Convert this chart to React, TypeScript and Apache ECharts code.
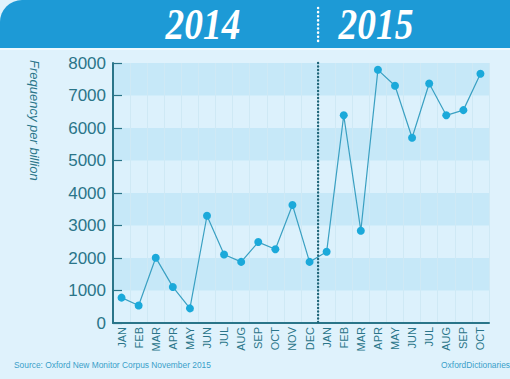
import React, { useEffect, useRef } from "react";
import * as echarts from "echarts";

const months2014 = ["JAN", "FEB", "MAR", "APR", "MAY", "JUN", "JUL", "AUG", "SEP", "OCT", "NOV", "DEC"];
const months2015 = ["JAN", "FEB", "MAR", "APR", "MAY", "JUN", "JUL", "AUG", "SEP", "OCT"];
const values2014 = [780, 540, 2010, 1110, 450, 3300, 2110, 1880, 2490, 2270, 3630, 1880];
const values2015 = [2190, 6390, 2840, 7790, 7300, 5700, 7370, 6390, 6550, 7670];
const yearLabels = ["2014", "2015"];
const yMin = 0;
const yMax = 8000;
const yInterval = 1000;

const TEAL = "#2a7589";

export default function App() {
  const ref = useRef<HTMLDivElement>(null);
  useEffect(() => {
    if (!ref.current) return;
    const chart = echarts.init(ref.current, undefined, { renderer: "svg" });
    const categories = [...months2014, ...months2015];
    const values = [...values2014, ...values2015];
    chart.setOption({
      animation: false,
      backgroundColor: "#dff2fc",
      grid: { left: 113, right: 21, top: 63, bottom: 56 },
      xAxis: {
        type: "category",
        data: categories,
        boundaryGap: true,
        axisLine: { lineStyle: { color: TEAL, width: 2 } },
        axisTick: { inside: true, length: 5, lineStyle: { color: TEAL, width: 1.2 } },
        splitLine: { show: true, lineStyle: { color: "#cfe9f5", width: 1 } },
        axisLabel: {
          rotate: 90,
          interval: 0,
          color: TEAL,
          fontSize: 11,
          fontFamily: "Liberation Sans",
          margin: 4,
        },
      },
      yAxis: {
        type: "value",
        min: yMin,
        max: yMax,
        interval: yInterval,
        axisLine: { show: true, lineStyle: { color: TEAL, width: 2 } },
        axisTick: { show: true, inside: true, length: 9, lineStyle: { color: TEAL, width: 1.2 } },
        splitLine: { show: false },
        splitArea: { show: true, areaStyle: { color: ["#dcf1fc", "#c6e8f8"] } },
        axisLabel: {
          color: TEAL,
          fontSize: 17,
          fontFamily: "Liberation Sans",
          margin: 7,
          formatter: (v: number) => String(v),
        },
      },
      series: [
        {
          type: "line",
          data: values,
          symbol: "circle",
          symbolSize: 8,
          lineStyle: { color: "#3aa0c2", width: 1.2 },
          itemStyle: { color: "#1ba9da" },
          z: 3,
        },
      ],
    });

    const x11 = chart.convertToPixel({ xAxisIndex: 0 }, 11) as number;
    const x12 = chart.convertToPixel({ xAxisIndex: 0 }, 12) as number;
    const xSep = (x11 + x12) / 2;
    const yTop = chart.convertToPixel({ yAxisIndex: 0 }, yMax) as number;
    const yBot = chart.convertToPixel({ yAxisIndex: 0 }, yMin) as number;

    chart.setOption({
      graphic: [
        {
          type: "rect",
          shape: { x: 0, y: 0, width: 510, height: 48, r: [22, 0, 0, 0] },
          style: { fill: "#1d9ad6" },
          z: 10,
        },
        {
          type: "rect",
          shape: { x: 0, y: 48, width: 510, height: 2 },
          style: { fill: "#eef9fe" },
          z: 10,
        },
        {
          type: "text",
          x: 203,
          y: 24,
          scaleX: 0.85,
          style: {
            text: yearLabels[0],
            fill: "#ffffff",
            font: "italic bold 44px 'Liberation Serif'",
            align: "center",
            verticalAlign: "middle",
          },
          z: 11,
        },
        {
          type: "text",
          x: 376,
          y: 24,
          scaleX: 0.85,
          style: {
            text: yearLabels[1],
            fill: "#ffffff",
            font: "italic bold 44px 'Liberation Serif'",
            align: "center",
            verticalAlign: "middle",
          },
          z: 11,
        },
        {
          type: "line",
          shape: { x1: xSep, y1: 8, x2: xSep, y2: 41 },
          style: { stroke: "#ffffff", lineWidth: 2.5, lineDash: [0.1, 4], lineCap: "round" },
          z: 11,
        },
        {
          type: "line",
          shape: { x1: xSep, y1: yTop, x2: xSep, y2: yBot },
          style: { stroke: "#1f6578", lineWidth: 2.4, lineDash: [0.1, 3.4], lineCap: "round" },
          z: 5,
        },
        {
          type: "text",
          x: 34,
          y: 60,
          rotation: -Math.PI / 2,
          style: {
            text: "Frequency per billion",
            fill: TEAL,
            font: "italic 13px 'Liberation Sans'",
            align: "left",
            verticalAlign: "middle",
          },
          z: 11,
        },
        {
          type: "text",
          x: 14,
          y: 365,
          style: {
            text: "Source: Oxford New Monitor Corpus November 2015",
            fill: "#3a9fc9",
            font: "8.4px 'Liberation Sans'",
            align: "left",
            verticalAlign: "middle",
          },
          z: 11,
        },
        {
          type: "text",
          x: 510,
          y: 365,
          style: {
            text: "OxfordDictionaries",
            fill: "#3a9fc9",
            font: "8.4px 'Liberation Sans'",
            align: "right",
            verticalAlign: "middle",
          },
          z: 11,
        },
      ],
    });

    return () => chart.dispose();
  }, []);
  return (
    <div
      ref={ref}
      style={{ position: "absolute", left: 0, top: 0, width: 510, height: 379 }}
    />
  );
}
